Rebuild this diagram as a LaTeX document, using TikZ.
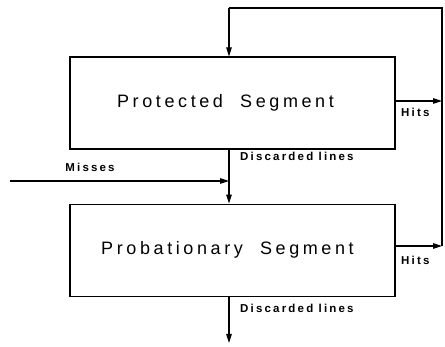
\documentclass[tikz,border=0pt]{standalone}
\usepackage{fontspec}
\setmainfont{Liberation Sans}
\newfontfamily\segfont[LetterSpace=20,WordSpace=2]{Liberation Sans}
\newfontfamily\lblfont[LetterSpace=19]{Liberation Sans}
\usetikzlibrary{arrows.meta,positioning}

\begin{document}
\begin{tikzpicture}[x=1pt,y=-1pt,
  seg/.style={draw,line width=1.1pt,minimum width=325pt,minimum height=92pt,inner sep=0pt,
    font=\segfont\fontsize{18}{21}\selectfont},
  lbl/.style={inner sep=0pt,font=\lblfont\bfseries\fontsize{11.5}{13}\selectfont},
  arr/.style={-{Triangle[length=9pt,width=5.5pt]},line width=1.1pt},
  ln/.style={line width=1.1pt},node distance=54pt]
\useasboundingbox (0,0) rectangle (445,347);
\node[seg] (prot) at (232.5,103) {Protected Segment\kern14pt\null};
\node[seg,below=of prot] (prob) {Probationary Segment\kern10pt\null};
% loop back for hits
\coordinate (rtop) at (442,8);
\coordinate (ltop) at (229,8);
\coordinate (hit1) at (442,101);
\coordinate (hit2) at (442,246);
\coordinate (miss) at (10,181);
\coordinate (joint) at (229,181);
\coordinate (out) at (229,343);
\draw[arr] (prot.east|-hit1)--(hit1);
\draw[arr] (prob.east|-hit2)--(hit2);
\draw[ln] (hit2)--(rtop)--(ltop);
\draw[arr] (ltop)--(ltop|-prot.north);
\draw[arr] (joint|-prot.south)--(joint|-prob.north);
\draw[arr] (miss)--(joint);
\draw[arr] (out|-prob.south)--(out);
\node[lbl,anchor=west] (h1) at (401,112) {Hits};
\node[lbl,anchor=west] (h2) at (401,260) {Hits};
\node[lbl,anchor=west] (d1) at (240,156) {Discarded lines};
\node[lbl,anchor=west] (d2) at (240,308) {Discarded lines};
\node[lbl] (ms) at (90,167) {Misses};
\end{tikzpicture}
\end{document}
